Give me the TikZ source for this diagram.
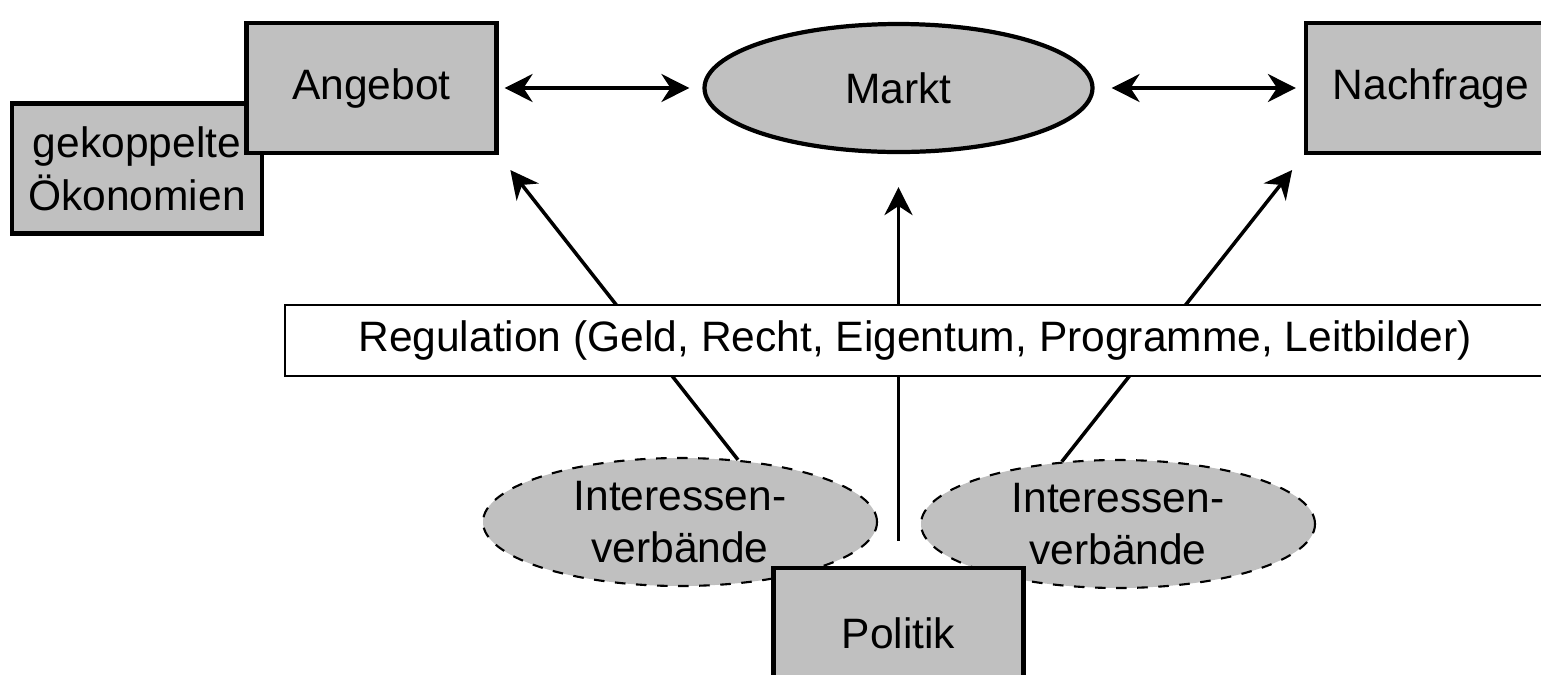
\documentclass[tikz,border=0pt]{standalone}
\usepackage{fontspec}
\setmainfont{Liberation Sans}
\usetikzlibrary{shapes.geometric, arrows.meta}
\definecolor{boxgray}{RGB}{192,192,192}

\begin{document}
\begin{tikzpicture}[>={Stealth[length=0.28cm, width=0.28cm]},
  every node/.style={font=\fontsize{12.1}{15}\selectfont, align=center},
  box/.style={draw, line width=1.2pt, fill=boxgray, minimum width=2.5cm, minimum height=1.3cm, inner sep=0pt},
  oval/.style={ellipse, draw, fill=boxgray, inner sep=0pt},
  link/.style={line width=1pt}]
\useasboundingbox (0,0) rectangle (15.41,6.74);

% Top row
\node[box] (oekon) at (1.37,5.055) {gekoppelte\\Ökonomien};
\node[box] (angebot) at (3.715,5.86) {Angebot};
\node[oval, line width=1.2pt, minimum width=3.88cm, minimum height=1.28cm] (markt) at (8.985,5.86) {Markt};
\node[box] (nachfrage) at (14.31,5.86) {Nachfrage};

% Bottom row
\node[oval, dashed, line width=0.6pt, minimum width=3.94cm, minimum height=1.28cm] (verb1) at (6.80,1.52) {Interessen-\\verbände};
\node[oval, dashed, line width=0.6pt, minimum width=3.94cm, minimum height=1.28cm] (verb2) at (11.18,1.50) {Interessen-\\verbände};
\node[box] (politik) at (8.985,0.41) {Politik};

% Connectors
\draw[link, <->, shorten <=0.06cm, shorten >=0.13cm] (angebot.east) -- (markt.west);
\draw[link, <->, shorten <=0.17cm, shorten >=0.08cm] (markt.east) -- (nachfrage.west);
\draw[link, ->, shorten >=0.19cm] (verb1.47) -- (angebot.south east);
\draw[link, ->, shorten >=0.19cm] (verb2.132) -- (nachfrage.south west);
\draw[link, ->, shorten <=0.25cm, shorten >=0.33cm] (politik.north) -- (markt.south);

% Regulation band over the connectors
\node[draw, fill=white, line width=0.6pt, minimum width=12.6cm, minimum height=0.71cm, inner sep=0pt] (regulation) at (9.15,3.335) {Regulation (Geld, Recht, Eigentum, Programme, Leitbilder)};
\end{tikzpicture}
\end{document}
